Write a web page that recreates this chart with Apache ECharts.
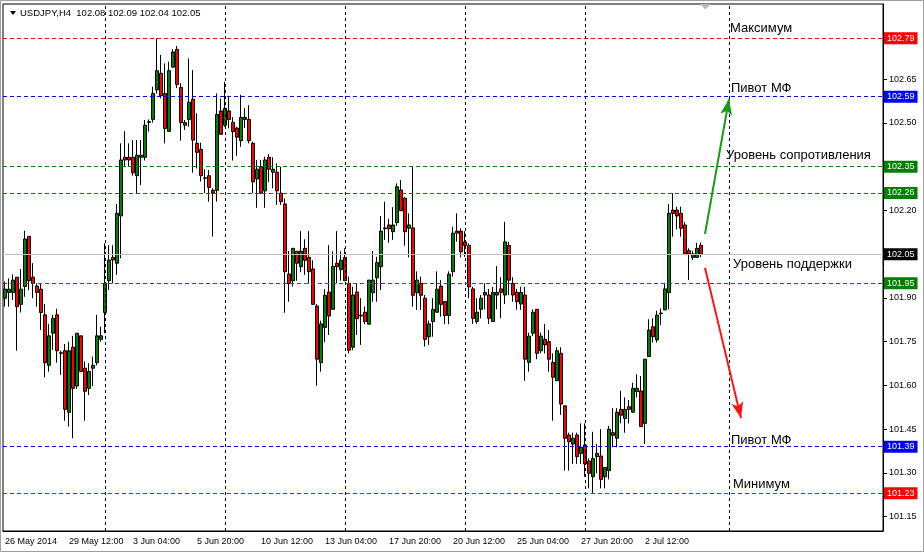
<!DOCTYPE html>
<html><head><meta charset="utf-8">
<script src="https://cdn.jsdelivr.net/npm/echarts@6/dist/echarts.min.js"></script>
<style>html,body{margin:0;padding:0;background:#fff}#c{width:924px;height:552px}</style>
</head><body><div id="c"></div><script>
const symbolName = 'USDJPY,H4';
const opens = [101.899,101.919,101.919,101.971,101.878,101.939,102.111,101.971,101.941,101.930,101.842,101.669,101.779,101.842,101.712,101.719,101.508,101.731,101.598,101.770,101.659,101.590,101.659,101.678,101.758,101.850,101.959,102.039,102.019,102.181,102.382,102.382,102.382,102.319,102.382,102.382,102.502,102.512,102.613,102.670,102.601,102.471,102.691,102.752,102.622,102.492,102.512,102.581,102.430,102.409,102.312,102.319,102.269,102.269,102.541,102.492,102.541,102.502,102.482,102.439,102.512,102.512,102.430,102.308,102.350,102.267,102.382,102.331,102.331,102.259,102.222,101.982,101.959,102.060,102.007,102.070,102.039,101.999,101.872,101.678,101.799,101.920,101.861,102.019,101.997,102.039,101.950,101.731,101.920,101.841,101.851,101.810,101.918,101.969,102.007,102.140,102.150,102.127,102.158,102.270,102.242,102.139,102.140,101.918,101.950,101.899,101.767,101.819,101.851,101.940,101.888,101.840,101.990,102.129,102.129,102.092,102.080,101.931,101.819,101.861,101.910,101.910,101.819,101.910,101.931,101.910,102.080,101.950,101.919,101.879,101.910,101.679,101.779,101.861,101.719,101.758,101.750,101.679,101.616,101.710,101.530,101.430,101.399,101.430,101.367,101.396,101.341,101.287,101.356,101.358,101.287,101.308,101.438,101.419,101.518,101.487,101.527,101.508,101.579,101.581,101.470,101.699,101.801,101.756,101.846,101.859,101.918,102.201,102.201,102.190,102.150,102.062,102.039,102.039,102.08];
const highs = [101.956,101.967,101.981,101.971,101.999,102.130,102.111,102.019,101.950,101.950,101.879,101.811,101.842,101.863,101.719,101.742,101.750,101.770,101.779,101.770,101.682,101.676,101.699,101.842,101.802,102.087,102.081,102.081,102.222,102.430,102.472,102.430,102.441,102.441,102.441,102.510,102.512,102.624,102.790,102.733,102.704,102.710,102.753,102.764,102.636,102.510,102.721,102.681,102.533,102.432,102.341,102.339,102.276,102.601,102.584,102.641,102.593,102.520,102.487,102.596,102.551,102.561,102.436,102.373,102.373,102.384,102.393,102.382,102.361,102.350,102.241,102.061,102.070,102.060,102.129,102.101,102.129,102.029,101.879,101.822,101.930,102.081,102.060,102.129,102.060,102.070,101.973,101.938,101.950,101.899,101.870,101.961,102.061,102.041,102.181,102.230,102.171,102.211,102.293,102.304,102.247,102.190,102.352,101.991,101.973,101.910,101.822,101.899,101.991,101.961,101.888,101.991,102.144,102.190,102.139,102.129,102.087,101.938,101.899,101.910,101.950,101.931,101.938,102.009,101.971,102.161,102.092,101.971,101.931,101.938,101.938,101.781,101.861,101.861,101.781,101.811,101.790,101.710,101.731,101.731,101.530,101.438,101.438,101.438,101.470,101.470,101.350,101.441,101.399,101.450,101.319,101.461,101.522,101.522,101.582,101.559,101.550,101.609,101.638,101.632,101.690,101.827,101.830,101.856,101.864,101.952,102.222,102.259,102.213,102.213,102.161,102.070,102.062,102.089,102.09];
const lows = [101.870,101.870,101.893,101.719,101.850,101.904,101.927,101.899,101.870,101.790,101.628,101.647,101.722,101.678,101.636,101.479,101.459,101.419,101.588,101.645,101.479,101.567,101.598,101.669,101.750,101.779,101.927,101.950,101.979,102.036,102.350,102.350,102.319,102.259,102.287,102.371,102.470,102.501,102.601,102.584,102.430,102.471,102.691,102.619,102.439,102.476,102.487,102.329,102.344,102.299,102.259,102.230,102.110,102.230,102.461,102.487,102.481,102.371,102.387,102.418,102.482,102.430,102.259,102.209,102.259,102.209,102.298,102.276,102.219,102.219,101.849,101.887,101.939,101.959,101.988,101.979,101.949,101.878,101.599,101.647,101.748,101.773,101.861,101.950,101.959,101.959,101.710,101.721,101.773,101.739,101.810,101.810,101.887,101.887,101.927,102.099,102.089,102.099,102.147,102.199,102.079,102.039,101.870,101.859,101.859,101.733,101.739,101.767,101.851,101.836,101.810,101.810,101.973,102.093,102.039,102.041,101.899,101.811,101.811,101.830,101.861,101.811,101.819,101.861,101.830,101.879,101.910,101.887,101.859,101.859,101.616,101.647,101.769,101.690,101.710,101.710,101.647,101.479,101.616,101.499,101.308,101.308,101.331,101.331,101.331,101.287,101.247,101.230,101.299,101.247,101.247,101.278,101.388,101.388,101.470,101.438,101.470,101.508,101.559,101.459,101.399,101.699,101.747,101.747,101.807,101.859,101.861,102.110,102.135,102.110,102.051,101.961,102.030,102.039,102.04];
const closes = [101.930,101.930,101.961,101.870,101.930,102.102,101.959,101.950,101.919,101.850,101.678,101.770,101.830,101.719,101.710,101.518,101.719,101.590,101.779,101.648,101.580,101.648,101.669,101.770,101.770,101.950,102.030,102.030,102.190,102.373,102.373,102.373,102.329,102.389,102.389,102.492,102.504,102.601,102.679,102.593,102.481,102.679,102.743,102.632,102.501,102.501,102.571,102.441,102.399,102.319,102.310,102.279,102.259,102.529,102.461,102.550,102.512,102.470,102.451,102.519,102.519,102.439,102.298,102.341,102.259,102.373,102.341,102.341,102.267,102.230,101.990,101.949,102.070,102.019,102.060,102.029,101.990,101.878,101.690,101.811,101.909,101.838,102.008,102.007,102.029,101.959,101.721,101.910,101.829,101.838,101.819,101.961,101.961,102.021,102.129,102.137,102.137,102.150,102.281,102.199,102.127,102.150,101.909,101.961,101.909,101.758,101.811,101.861,101.930,101.878,101.840,101.981,102.122,102.122,102.058,102.080,101.938,101.830,101.851,101.899,101.919,101.830,101.919,101.919,101.919,102.092,101.961,101.910,101.887,101.919,101.690,101.769,101.851,101.710,101.769,101.739,101.690,101.628,101.719,101.536,101.419,101.407,101.419,101.356,101.388,101.331,101.299,101.350,101.367,101.278,101.319,101.450,101.429,101.508,101.498,101.518,101.518,101.590,101.590,101.459,101.690,101.790,101.767,101.841,101.848,101.931,102.190,102.190,102.181,102.139,102.051,102.051,102.051,102.070,102.05];
const xTickLabels = ['26 May 2014','29 May 12:00','3 Jun 04:00','5 Jun 20:00','10 Jun 12:00','13 Jun 04:00','17 Jun 20:00','20 Jun 12:00','25 Jun 04:00','27 Jun 20:00','2 Jul 12:00'];
const yTickValues = [101.15,101.30,101.45,101.60,101.75,101.90,102.20,102.50,102.65];
const levelValues = [102.79,102.59,102.35,102.26,101.95,101.39,101.23];
const currentPrice = 102.05;
const annotationTexts = ['Максимум','Пивот МФ','Уровень сопротивления','Уровень поддержки','Пивот МФ','Минимум'];
const annotationLevels = [102.79,102.59,102.35,102.05,101.39,101.23];
const gridBarIndices = [25,55,85,115,145,181];
const arrowUp = [[175,102.119],[181,102.582]];
const arrowDown = [[175,102.003],[184,101.488]];

const N = 220;
const categories = Array.from({length:N},(_,i)=>String(i));
const candleData = opens.map((o,i)=>[o,closes[i],lows[i],highs[i]]);
const levelColors = ['#ff0000','#0000ff','#008000','#008000','#008000','#0000ff','#ff0000'];
const SF = 'Liberation Sans, Arial, sans-serif';

const chart = echarts.init(document.getElementById('c'),null,{renderer:'canvas'});
const levelLines = levelValues.map((v,k)=>({
  yAxis:v,
  lineStyle:{color:levelColors[k],type:[4,3],width:1},
  label:{show:true,position:'end',distance:1,formatter:v.toFixed(2),backgroundColor:levelColors[k],color:'#fff',
         padding:[2,3,1,3],fontSize:9,fontFamily:SF}
}));
levelLines.push({yAxis:currentPrice,lineStyle:{color:'#c0c0c0',type:'solid',width:1},
  label:{show:true,position:'end',distance:1,formatter:currentPrice.toFixed(2),backgroundColor:'#000',color:'#fff',
         padding:[2,3,1,3],fontSize:9,fontFamily:SF}});
const vLines = gridBarIndices.map(i=>({xAxis:categories[i],lineStyle:{color:'#000',type:[3,3],width:1},label:{show:false}}));
const arrowItem = (a,color)=>[
  {coord:[categories[a[0][0]],a[0][1]],symbol:'none',lineStyle:{color,width:2,type:'solid'}},
  {coord:[categories[a[1][0]],a[1][1]],symbol:'arrow',symbolSize:[9,16]}
];

chart.setOption({
  animation:false,
  backgroundColor:'#fff',
  grid:{left:3,right:41,top:4,bottom:21,show:true,borderColor:'#000',borderWidth:1,backgroundColor:'#fff'},
  xAxis:{type:'category',data:categories,boundaryGap:true,
    axisLine:{lineStyle:{color:'#000',width:1}},
    axisTick:{alignWithLabel:true,interval:(i)=>i%16===0&&i<=160,length:4,lineStyle:{color:'#000'}},
    axisLabel:{interval:(i)=>i%16===0&&i<=160,formatter:(v,i)=>xTickLabels[i/16]||'',align:'left',margin:6,color:'#000',fontFamily:SF,fontSize:9},
    splitLine:{show:false}},
  yAxis:{type:'value',position:'right',min:101.101,max:102.9076,
    axisLine:{show:true,lineStyle:{color:'#000'}},
    axisTick:{show:true,length:4,customValues:yTickValues,lineStyle:{color:'#000'}},
    axisLabel:{customValues:yTickValues,formatter:v=>v.toFixed(2),color:'#000',fontFamily:SF,fontSize:9,margin:6},
    splitLine:{show:false}},
  series:[
    {type:'line',data:[],z:1,silent:true,
     markLine:{silent:true,symbol:['none','none'],animation:false,data:[...vLines,...levelLines]}},
    {type:'candlestick',z:3,data:candleData,barWidth:3,silent:true,
     itemStyle:{color:'#008000',color0:'#ff0000',borderColor:'#000',borderColor0:'#000',borderColorDoji:'#000',borderWidth:1}},
    {type:'line',data:[],z:4,silent:true,
     markLine:{silent:true,animation:false,symbol:['none','arrow'],label:{show:false},
       data:[arrowItem(arrowUp,'#1a9a1a'),arrowItem(arrowDown,'#ff1010')]}}
  ]
});

const g = [];
const anchorX = chart.convertToPixel({gridIndex:0},[categories[181],102])[0];
const offs = [[1,-10],[2,-8.5],[-3,-11],[4,10],[2,-6],[4,-9]];
annotationTexts.forEach((t,k)=>{
  const y = chart.convertToPixel({gridIndex:0},[categories[181],annotationLevels[k]])[1];
  g.push({type:'text',x:anchorX+offs[k][0],y:y+offs[k][1],z:10,
    style:{text:t,fill:'#000',font:'13px '+SF,textVerticalAlign:'middle',textAlign:'left'}});
});
const last = opens.length-1;
const header = symbolName+'  '+[opens[last],highs[last],lows[last],closes[last]].map(v=>v.toFixed(2)).join(' ');
g.push({type:'polygon',z:10,shape:{points:[[10,11],[16,11],[13,15]]},style:{fill:'#000'}});
g.push({type:'text',x:20,y:13,z:10,style:{text:header,fill:'#000',font:'9.5px '+SF,textVerticalAlign:'middle'}});
g.push({type:'polygon',z:10,shape:{points:[[700,4],[711,4],[705.5,9.5]]},style:{fill:'#b8b8b8'}});
g.push({type:'rect',z:0,shape:{x:0.5,y:0.5,width:923,height:551},style:{fill:'none',stroke:'#a0a0a0',lineWidth:1}});
chart.setOption({graphic:g});
</script></body></html>
